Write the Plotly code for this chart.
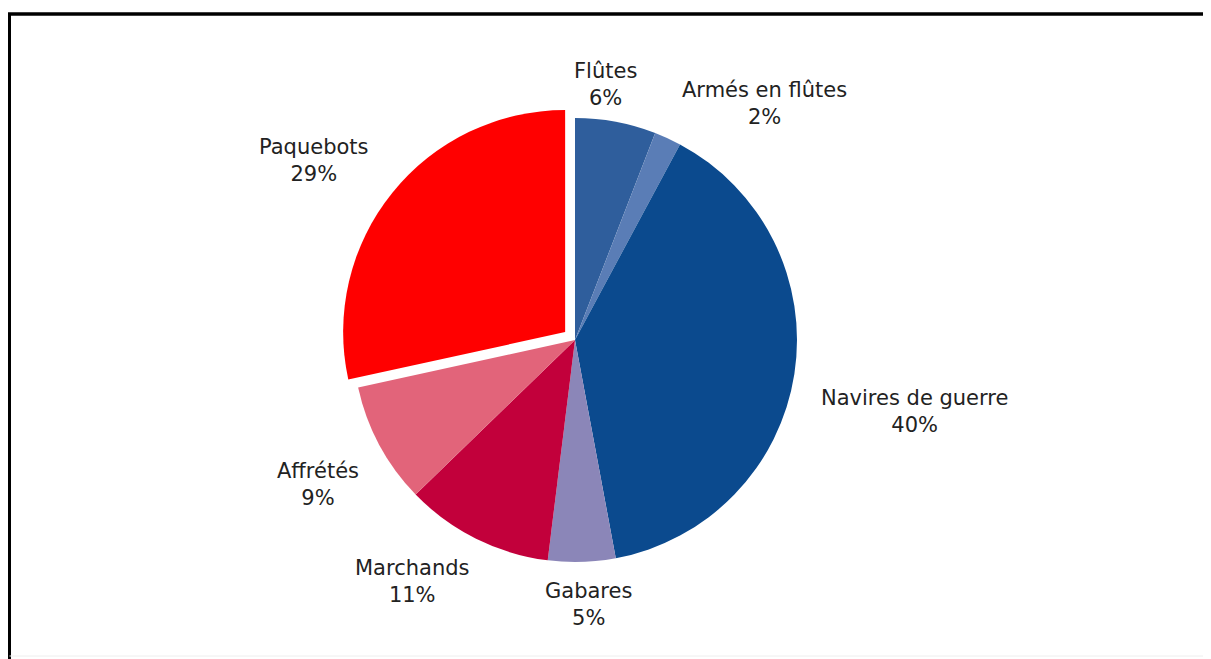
import math
import plotly.graph_objects as go

labels = ["Flûtes", "Armés en flûtes", "Navires de guerre", "Gabares", "Marchands", "Affrétés", "Paquebots"]
values = [6, 2, 40, 5, 11, 9, 29]
colors = ["#2F5E9C", "#5A7DB6", "#0B4A8E", "#8B86B8", "#C2003B", "#E2647A", "#FF0000"]
pulls = [0, 0, 0, 0, 0, 0, 0.057]

# label placement (layout only): angular nudge (deg) and distance from centre (px)
label_nudge = [-3.8, 14.0, 3.0, -1.2, 7.5, -1.1, -4.4]
label_dist = [257, 303, 347, 265, 291, 295, 317]

OFF = 8  # page body margin
W, H = 1211 - OFF, 659 - OFF
cx, cy, R = 575 - OFF, 340 - OFF, 222
half = R * (1 + max(pulls))

font = dict(family="DejaVu Sans, Liberation Sans, sans-serif", size=21, color="#222222")

fig = go.Figure(go.Pie(
    labels=labels,
    values=values,
    sort=False,
    direction="clockwise",
    rotation=0,
    pull=pulls,
    marker=dict(colors=colors, line=dict(width=0)),
    textinfo="none",
    showlegend=False,
    hoverinfo="label+value",
    domain=dict(x=[(cx - half) / W, (cx + half) / W], y=[(H - cy - half) / H, (H - cy + half) / H]),
))

total = sum(values)
annotations = []
cum = 0.0
for lab, v, nd, dist in zip(labels, values, label_nudge, label_dist):
    mid = (cum + v / 2) / total * 360.0 + nd
    cum += v
    a = math.radians(mid)
    px = cx + dist * math.sin(a)
    py = cy - dist * math.cos(a)
    annotations.append(dict(
        x=px / W, y=1 - py / H, xref="paper", yref="paper",
        text=f"{lab}<br>{v}%", showarrow=False,
        xanchor="center", yanchor="middle", align="center", font=font,
    ))

fig.update_layout(
    width=W, height=H,
    margin=dict(l=0, r=0, t=0, b=0),
    paper_bgcolor="white",
    plot_bgcolor="white",
    annotations=annotations,
    shapes=[
        dict(type="line", xref="paper", yref="paper", x0=0, x1=1, y0=1 - 6 / H, y1=1 - 6 / H,
             line=dict(color="black", width=3.5)),
        dict(type="line", xref="paper", yref="paper", x0=1.5 / W, x1=1.5 / W, y0=0, y1=1 - 6 / H,
             line=dict(color="black", width=3)),
        dict(type="line", xref="paper", yref="paper", x0=1197 / W, x1=1197 / W, y0=0, y1=1 - 6 / H,
             line=dict(color="#e0e0e0", width=1)),
        dict(type="line", xref="paper", yref="paper", x0=1.5 / W, x1=1197 / W, y0=3 / H, y1=3 / H,
             line=dict(color="#eeeeee", width=1)),
    ],
)

fig.write_html("out.html")
